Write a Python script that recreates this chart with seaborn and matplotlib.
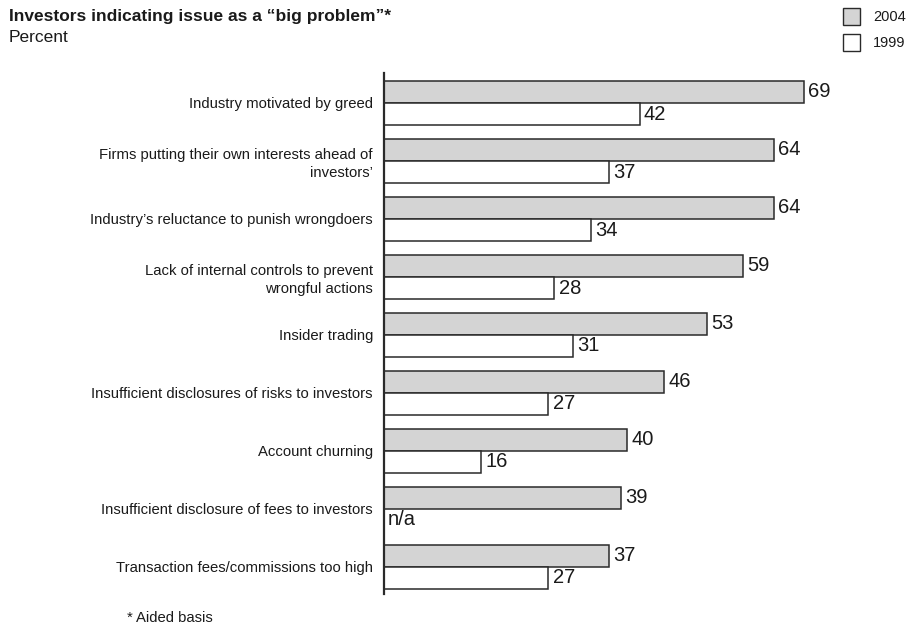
import matplotlib
matplotlib.use("Agg")
import matplotlib.pyplot as plt
import seaborn as sns
import numpy as np
import pandas as pd
from matplotlib.patches import Rectangle

categories = [
    "Industry motivated by greed",
    "Firms putting their own interests ahead of\ninvestors’",
    "Industry’s reluctance to punish wrongdoers",
    "Lack of internal controls to prevent\nwrongful actions",
    "Insider trading",
    "Insufficient disclosures of risks to investors",
    "Account churning",
    "Insufficient disclosure of fees to investors",
    "Transaction fees/commissions too high",
]
values_2004 = [69, 64, 64, 59, 53, 46, 40, 39, 37]
values_1999 = [42, 37, 34, 28, 31, 27, 16, np.nan, 27]
series = ["2004", "1999"]

sns.set_theme(style="white")
plt.rcParams["font.family"] = ["Liberation Sans", "DejaVu Sans"]

df = pd.DataFrame({
    "category": categories * 2,
    "value": values_2004 + values_1999,
    "year": ["2004"] * len(categories) + ["1999"] * len(categories),
})

fig = plt.figure(figsize=(9.07, 6.27), dpi=100)
W, H = 907, 627
ax_left, ax_right = 384 / W, 898 / W
ax_bottom, ax_top = 1 - 594 / H, 1 - 73 / H
ax = fig.add_axes([ax_left, ax_bottom, ax_right - ax_left, ax_top - ax_bottom])

colors = {"2004": "#d4d4d4", "1999": "white"}
sns.barplot(data=df, y="category", x="value", hue="year", hue_order=series,
            palette=colors, order=categories, orient="h", width=0.76,
            edgecolor="#2a2a2a", linewidth=1.1, ax=ax, legend=False)

xmax = (898 - 384) / ((804 - 384) / 69)
ax.set_xlim(0, xmax)
ax.set_ylim(8.466, -0.517)

for cont in ax.containers:
    ax.bar_label(cont, fmt="%d", padding=3, fontsize=14.5, color="#1a1a1a")

ax.text(0.6, 7 + 0.19, "n/a", fontsize=14.5, va="center", ha="left", color="#1a1a1a")

for s in ["top", "right", "bottom"]:
    ax.spines[s].set_visible(False)
ax.spines["left"].set_color("#2a2a2a")
ax.spines["left"].set_linewidth(1.6)
ax.set_xticks([])
ax.set_xlabel("")
ax.set_ylabel("")
ax.tick_params(axis="y", length=0, pad=8, labelsize=10.7, labelcolor="#1a1a1a")
for lbl in ax.get_yticklabels():
    lbl.set_multialignment("right")
    lbl.set_linespacing(1.3)

fig.text(9 / W, 1 - 16 / H, "Investors indicating issue as a “big problem”*",
         fontsize=12.5, fontweight="bold", ha="left", va="center", color="#1a1a1a")
fig.text(9 / W, 1 - 38 / H, "Percent", fontsize=12.5, ha="left", va="center", color="#1a1a1a")

# legend
for i, (yr, ytop) in enumerate([("2004", 8), ("1999", 34)]):
    fig.patches.append(Rectangle((843 / W, 1 - (ytop + 17) / H), 17 / W, 17 / H,
                                 transform=fig.transFigure, facecolor=colors[yr],
                                 edgecolor="#2a2a2a", linewidth=1.0))
    fig.text(873 / W, 1 - (ytop + 9) / H, yr, fontsize=10.5, ha="left", va="center",
             color="#1a1a1a")

fig.text(127 / W, 1 - 618 / H, "* Aided basis", fontsize=10.7, ha="left", va="center",
         color="#1a1a1a")

fig.savefig("out.png", dpi=100)
